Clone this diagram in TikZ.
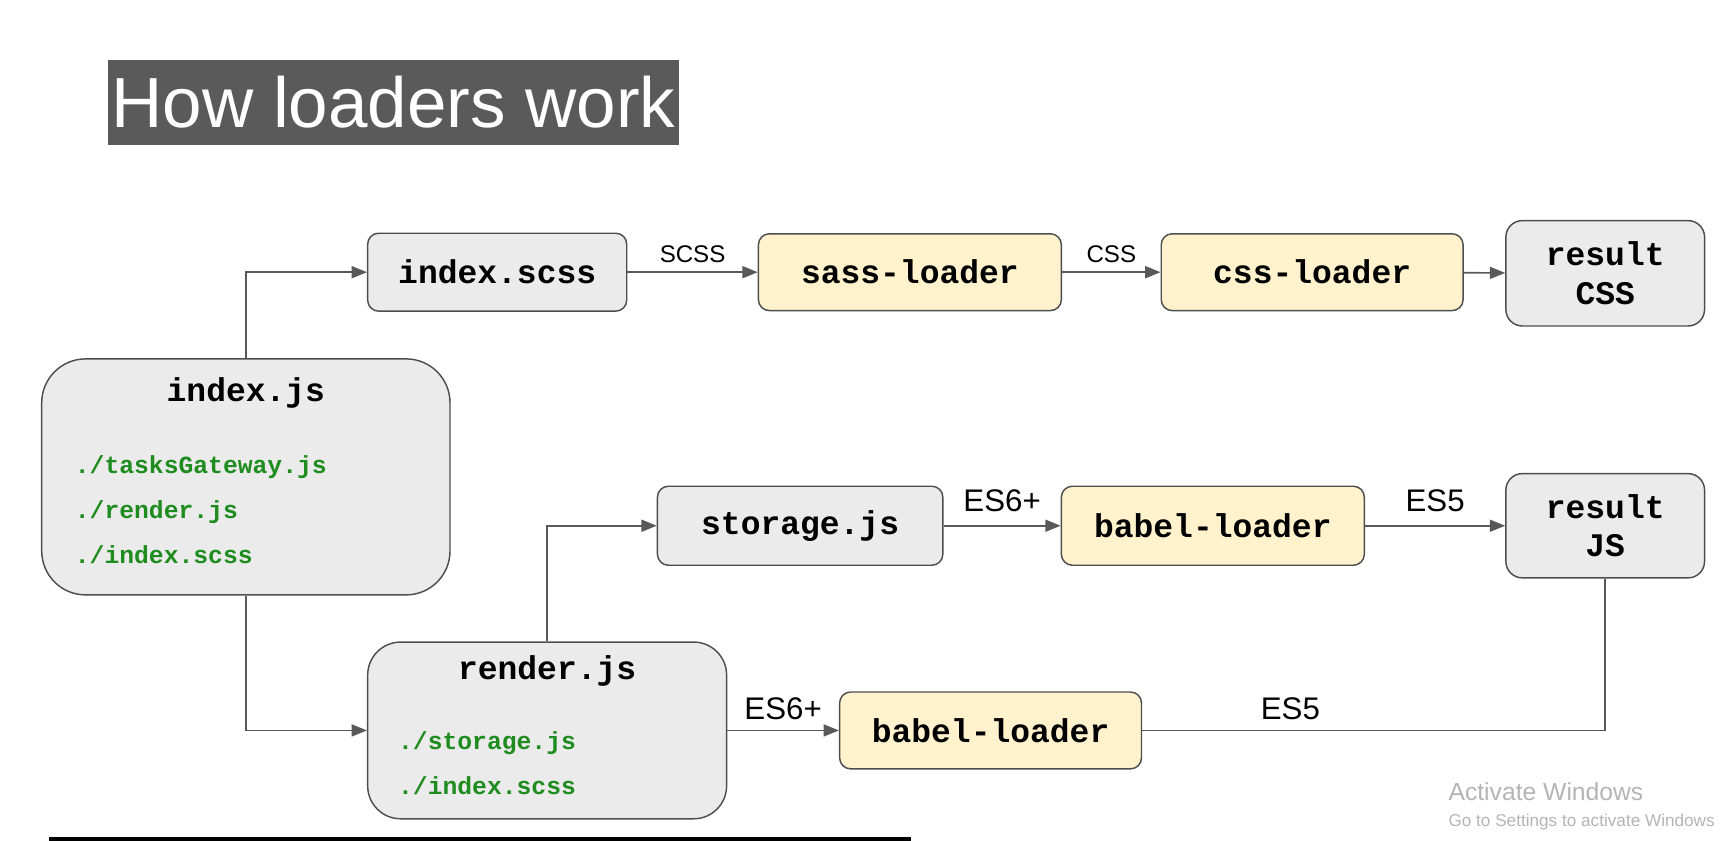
\documentclass[tikz,border=0pt]{standalone}
\usepackage{fontspec}
\setmainfont{Liberation Sans}
\setmonofont{Liberation Mono}
\usepackage{xcolor}
\usetikzlibrary{arrows.meta,positioning}
\definecolor{boxgray}{HTML}{EBEBEB}
\definecolor{boxyellow}{HTML}{FFF2CC}
\definecolor{edgegray}{HTML}{4D4D4D}
\definecolor{linegray}{HTML}{595959}
\definecolor{depgreen}{HTML}{1E8C1E}
\definecolor{titlegray}{HTML}{5A5A5A}
\definecolor{wmgray}{HTML}{B4B4B4}
\tikzset{file/.style={rectangle,rounded corners=2mm,draw=edgegray,fill=boxgray,line width=0.75pt,minimum height=14.2mm,font=\fontsize{17.1}{20}\selectfont\ttfamily\bfseries},
    loader/.style={file,fill=boxyellow},
    result/.style={file,rounded corners=3mm,minimum width=36.2mm,minimum height=19.2mm,align=center,font=\fontsize{17.1}{19.8}\selectfont\ttfamily\bfseries},
    module/.style={file,rounded corners=8mm},
    modname/.style={anchor=base,inner sep=0pt,font=\fontsize{17.1}{20}\selectfont\ttfamily\bfseries},
    dep/.style={anchor=base west,inner sep=0pt,text=depgreen,font=\fontsize{12.8}{15}\selectfont\ttfamily\bfseries},
    lbl/.style={text=black,inner sep=1.5pt,font=\fontsize{12.5}{15}\selectfont},
    biglbl/.style={text=black,inner sep=2pt,font=\fontsize{16.2}{19}\selectfont}}

\begin{document}
\begin{tikzpicture}[x=0.2mm,y=-0.2mm,>={Triangle[length=2.8mm,width=2.2mm]},line width=0.85pt]
        \useasboundingbox (0,0) rectangle (1568,766.2);

        \node[fill=titlegray,text=white,minimum width=104.2mm,minimum height=15.4mm,inner sep=0pt,font=\fontsize{36.8}{40}\selectfont] (title) at (358.5,93.5) {How loaders work};

        % css chain
        \node[file,minimum width=47.2mm] (scss) at (453,248) {index.scss};
        \node[loader,minimum width=55.2mm,minimum height=14mm] (sass) at (829,248) {sass-loader};
        \node[loader,minimum width=55mm,minimum height=14mm] (css) at (1195.5,248) {css-loader};
        \node[result] (rcss) at (1462.5,249) {result\\CSS};

        % modules
        \node[module,minimum width=74.4mm,minimum height=43mm] (ijs) at (224,434.5) {};
        \node[modname] (ijsname) at (224,366) {index.js};
        \node[dep] (ijsdep1) at (67.5,431) {./tasksGateway.js};
        \node[dep] (ijsdep2) at (67.5,472) {./render.js};
        \node[dep] (ijsdep3) at (67.5,513) {./index.scss};

        \node[module,rounded corners=6mm,minimum width=65.4mm,minimum height=32.2mm] (rend) at (498.5,665.5) {};
        \node[modname] (rendname) at (498.5,619) {render.js};
        \node[dep] (renddep1) at (362,683.3) {./storage.js};
        \node[dep] (renddep2) at (362,724.3) {./index.scss};

        % js chain
        \node[file,minimum width=52mm,minimum height=14.4mm] (stor) at (729,479) {storage.js};
        \node[loader,minimum width=55.2mm,minimum height=14.4mm] (babtop) at (1105,479) {babel-loader};
        \node[result,minimum height=19mm] (rjs) at (1462.5,479) {result\\JS};
        \node[loader,minimum width=55mm,minimum height=14mm] (babbot) at (902.5,665.5) {babel-loader};

        \draw [->,linegray] (ijs.north) |- (scss.west);
        \draw [->,linegray] (scss) to []node[lbl,above=3pt]{SCSS} (sass);
        \draw [->,linegray] (sass) to []node[lbl,above=3pt]{CSS} (css);
        \draw [->,linegray] (css) to [] (rcss);

        \draw [->,linegray] (ijs.south) |- (rend.west);
        \draw [->,linegray] (rend.north) |- (stor.west);
        \draw [->,linegray] (stor) to []node[biglbl,above=5pt]{ES6+} (babtop);
        \draw [->,linegray] (babtop) to []node[biglbl,above=5pt]{ES5} (rjs);
        \draw [->,linegray] (rend.east) to []node[biglbl,above=3pt]{ES6+} (babbot.west);
        \draw [linegray] (babbot.east) -| node[biglbl,above=3pt,pos=0.16]{ES5} (rjs.south);

        % screen
        \draw [line width=1.7pt,black] (45,764.5) -- (830,764.5);
        \node[anchor=base west,inner sep=0pt,text=wmgray,font=\fontsize{12.8}{15}\selectfont] (wm1) at (1319,729) {Activate Windows};
        \node[anchor=base west,inner sep=0pt,text=wmgray,font=\fontsize{8.9}{11}\selectfont] (wm2) at (1319,753) {Go to Settings to activate Windows};
    \end{tikzpicture}
\end{document}
